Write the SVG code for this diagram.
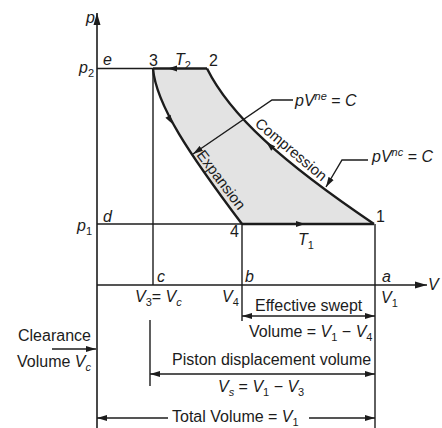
<svg xmlns="http://www.w3.org/2000/svg" width="442" height="428" viewBox="0 0 442 428">
<defs>
<style>
.ln{stroke:#1c1c1c;stroke-width:1.4;fill:none}
.ax{stroke:#1c1c1c;stroke-width:1.6;fill:none}
.thk{stroke:#1c1c1c;stroke-width:2.4;fill:none}
.t{font-family:"Liberation Sans",Arial,sans-serif;font-size:16px;fill:#1c1c1c}
.i{font-style:italic}
.n{font-style:normal}
.sub{font-size:11px}
.r{font-size:15px}
</style>
<marker id="dh" viewBox="0 0 10 7" refX="10" refY="3.5" markerWidth="10" markerHeight="7" markerUnits="userSpaceOnUse" orient="auto-start-reverse"><path d="M0,0.5 L10,3.5 L0,6.5 Z" fill="#1c1c1c"/></marker>
<marker id="axh" viewBox="0 0 12 8" refX="12" refY="4" markerWidth="12" markerHeight="8" markerUnits="userSpaceOnUse" orient="auto"><path d="M0,0.5 L12,4 L0,7.5 Z" fill="#1c1c1c"/></marker>
<path id="ma" d="M0,0 L-9,-3 L-9,3 Z" fill="#1c1c1c"/>
</defs>
<rect width="442" height="428" fill="#ffffff"/>

<g id="cycle-area">
<path d="M153,68.5 L207,68.5 C230,115 282,162 374,224 L242,224 C190,155 156,105 153,68.5 Z" fill="#e3e3e3"/>
</g>

<g id="axes">
<path class="ax" d="M97,428 V13" marker-end="url(#axh)"/>
<path class="ax" d="M97,285 H427" marker-end="url(#axh)"/>
<text class="t i" x="86" y="23">p</text>
<text class="t i" x="428" y="290">V</text>
</g>

<g id="connectors">
<path class="ln" d="M97,68.5 H153"/>
<path class="thk" d="M153,68.5 H207"/>
<path class="thk" d="M207,68.5 C230,115 282,162 374,224"/>
<path class="thk" d="M242,224 H374"/>
<path class="thk" d="M153,68.5 C156,105 190,155 242,224"/>
<path class="ln" d="M97,224 H242"/>
<path class="ln" d="M153,68.5 V285"/>
<path class="ln" d="M242,224 V321"/>
<path class="ln" d="M375,224 V428"/>
<path class="ln" d="M150,320 V386"/>
<use href="#ma" transform="translate(168,68.5) rotate(180)"/>
<use href="#ma" transform="translate(305,224)"/>
<use href="#ma" transform="translate(172.5,124) rotate(60)"/>
<use href="#ma" transform="translate(266.5,142.5) rotate(222)"/>
<path class="ln" d="M293,100 H272 L193,154" marker-end="url(#dh)"/>
<path class="ln" d="M368,160 H342 L326,187" marker-end="url(#dh)"/>
<path class="ln" d="M242,316 H375" marker-start="url(#dh)" marker-end="url(#dh)"/>
<path class="ln" d="M150,374 H375" marker-start="url(#dh)" marker-end="url(#dh)"/>
<path class="ln" d="M52,349 H96" marker-end="url(#dh)"/>
<path class="ln" d="M97,418 H168" marker-start="url(#dh)"/>
<path class="ln" d="M309,418 H375" marker-end="url(#dh)"/>
</g>

<g id="point-labels">
<text class="t i" x="103" y="65">e</text>
<text class="t" x="149" y="66">3</text>
<text class="t i" x="175" y="65">T<tspan class="sub n" dy="4">2</tspan></text>
<text class="t" x="209" y="66">2</text>
<text class="t i" x="79" y="73">p<tspan class="sub n" dy="4">2</tspan></text>
<text class="t i" x="103" y="222">d</text>
<text class="t i" x="77" y="231">p<tspan class="sub n" dy="4">1</tspan></text>
<text class="t" x="230" y="237">4</text>
<text class="t i" x="298" y="245">T<tspan class="sub n" dy="4">1</tspan></text>
<text class="t" x="376" y="222">1</text>
<text class="t i" x="157" y="282">c</text>
<text class="t i" x="245" y="282">b</text>
<text class="t i" x="382" y="282">a</text>
</g>

<g id="process-labels">
<text class="t r" transform="translate(254,125) rotate(40)">Compression</text>
<text class="t r" transform="translate(196,155) rotate(53)">Expansion</text>
<text class="t i" x="295" y="105.5">pV<tspan class="sub" dy="-6">ne</tspan><tspan class="n" dy="6"> = </tspan>C</text>
<text class="t i" x="372" y="161.5">pV<tspan class="sub" dy="-6">nc</tspan><tspan class="n" dy="6"> = </tspan>C</text>
</g>

<g id="volume-labels">
<text class="t" x="135" y="302"><tspan class="i">V</tspan><tspan class="sub" dy="4">3</tspan><tspan dy="-4">= </tspan><tspan class="i">V</tspan><tspan class="sub i" dy="4">c</tspan></text>
<text class="t" x="222" y="302"><tspan class="i">V</tspan><tspan class="sub" dy="4">4</tspan></text>
<text class="t" x="381" y="303"><tspan class="i">V</tspan><tspan class="sub" dy="4">1</tspan></text>
<text class="t" x="255" y="311">Effective swept</text>
<text class="t" x="249" y="337">Volume = <tspan class="i">V</tspan><tspan class="sub" dy="4">1</tspan><tspan dy="-4"> − </tspan><tspan class="i">V</tspan><tspan class="sub" dy="4">4</tspan></text>
<text class="t" x="18" y="341">Clearance</text>
<text class="t" x="17" y="367">Volume <tspan class="i">V</tspan><tspan class="sub i" dy="4">c</tspan></text>
<text class="t" x="172" y="365">Piston displacement volume</text>
<text class="t" x="218" y="392"><tspan class="i">V</tspan><tspan class="sub i" dy="4">s</tspan><tspan dy="-4"> = </tspan><tspan class="i">V</tspan><tspan class="sub" dy="4">1</tspan><tspan dy="-4"> − </tspan><tspan class="i">V</tspan><tspan class="sub" dy="4">3</tspan></text>
<text class="t" x="172" y="421.5">Total Volume = <tspan class="i">V</tspan><tspan class="sub" dy="4">1</tspan></text>
</g>
</svg>
